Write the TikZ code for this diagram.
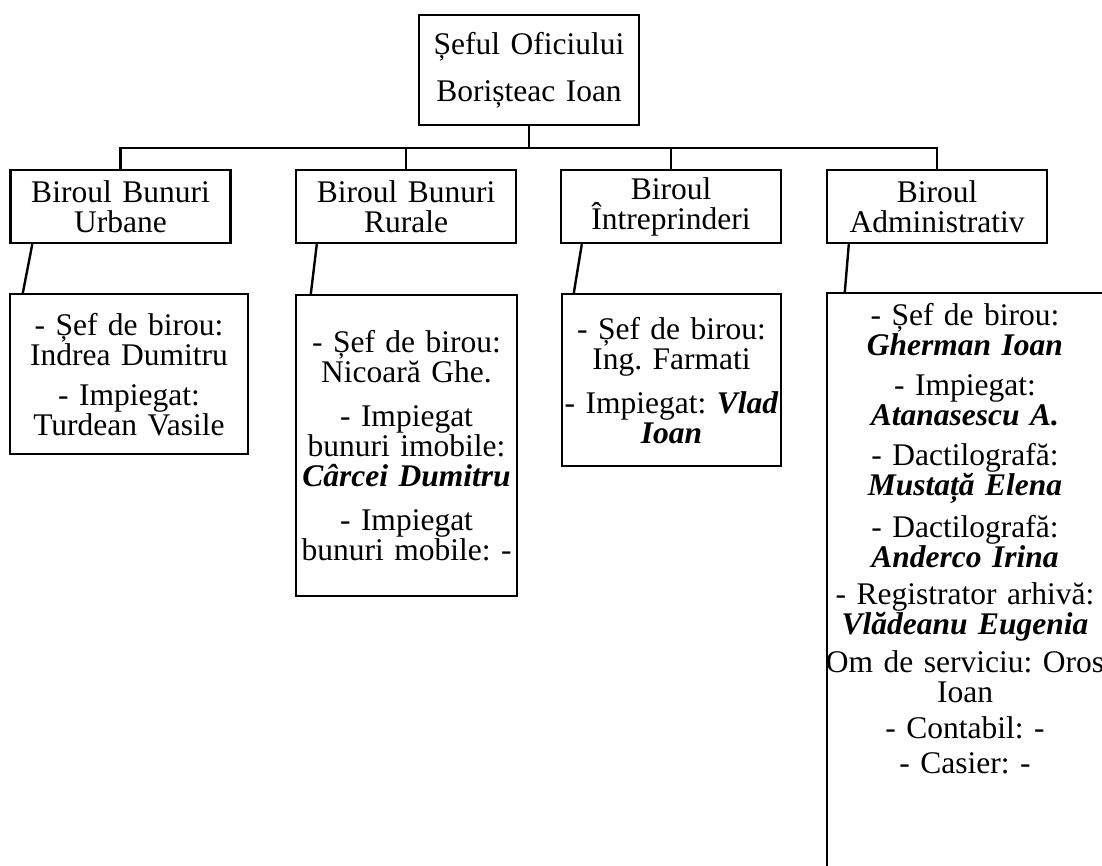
\documentclass[tikz,border=0pt]{standalone}
\usepackage{fontspec}
\setmainfont{Liberation Serif}
\frenchspacing
\newcommand{\nume}[1]{\textbf{\textit{#1}}}
\begin{document}
\begin{tikzpicture}[x=0.5pt,y=-0.5pt,line width=1.2pt,
      box/.style={draw,rectangle,inner sep=0pt,align=center,
        font=\fontsize{15.75}{15}\selectfont},
      dept/.style={box,minimum width=110pt,minimum height=36.5pt,text width=106pt},
      staff/.style={box,anchor=north},
      ]
  \useasboundingbox (0,0) rectangle (1102,866);
  \clip (0,0) rectangle (1102,866);

  \node [box,minimum width=110pt,minimum height=55pt,text width=106pt,
    font=\fontsize{15.75}{23.5}\selectfont] (sef) at (529,70)
    {Șeful Oficiului\\Borișteac Ioan};

  \node [dept] (urb) at (120.5,206.5) {Biroul Bunuri\\Urbane};
  \node [dept] (rur) at (406,206.5) {Biroul Bunuri\\Rurale};
  \node [dept] (intr) at (671,206.5) {Biroul\\Întreprinderi};
  \node [dept] (adm) at (937,206.5) {Biroul\\Administrativ};

  \draw (sef.south) -- ++(0,-11pt) coordinate (bus);
  \foreach \b in {urb,rur,intr,adm}
    \draw (bus) -| (\b.north);

  \node [staff,minimum width=119pt,text width=115pt,minimum height=80pt]
    (urbst) at (129,293)
    {- Șef de birou:\\Indrea Dumitru\\[5pt]- Impiegat:\\Turdean Vasile};
  \node [staff,minimum width=110.5pt,text width=108pt,minimum height=150.5pt]
    (rurst) at (406.5,294)
    {- Șef de birou:\\Nicoară Ghe.\\[7pt]- Impiegat\\bunuri imobile:\\
     \nume{Cârcei Dumitru}\\[7pt]- Impiegat\\bunuri mobile: -};
  \node [staff,minimum width=109.5pt,text width=108pt,minimum height=86pt]
    (intrst) at (671.5,293)
    {- Șef de birou:\\Ing. Farmati\\[7pt]
     \makebox[0pt]{- Impiegat: \nume{Vlad}}\\\nume{Ioan}};
  \node [staff,minimum width=138pt,text width=134pt,inner ysep=5pt]
    (admst) at (965,292)
    {- Șef de birou:\\\nume{Gherman Ioan}\\[5pt]
     - Impiegat:\\\nume{Atanasescu A.}\\[5pt]
     - Dactilografă:\\\nume{Mustață Elena}\\[5pt]
     - Dactilografă:\\\nume{Anderco Irina}\\[3.5pt]
     - Registrator arhivă:\\\nume{Vlădeanu Eugenia}\\[4pt]
     \makebox[0pt]{Om de serviciu: Oros}\\Ioan\\[3pt]
     - Contabil: -\\[2.5pt]
     - Casier: -\\[60pt]\mbox{}};

  % legaturi birou -> personal
  \foreach \a/\b/\s/\e in {urb/urbst/11.5/7,rur/rurst/11/8,
                           intr/intrst/11/6.5,adm/admst/11.5/9.5}
    \draw ([xshift=\s pt]\a.south west) -- ([xshift=\e pt]\b.north west);
\end{tikzpicture}
\end{document}
